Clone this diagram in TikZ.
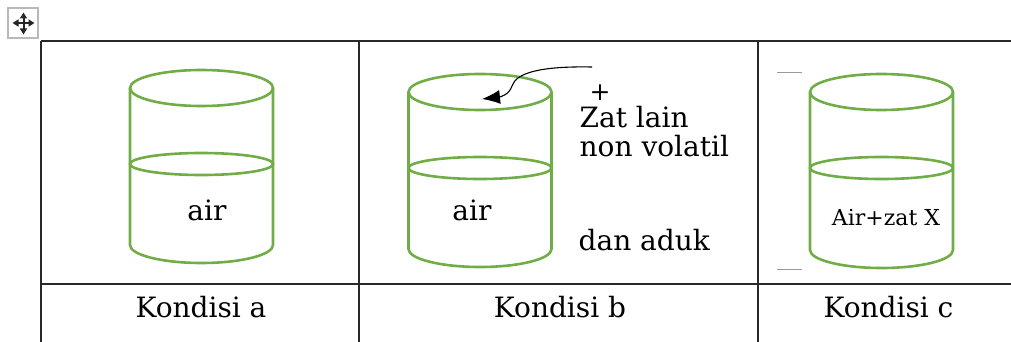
\documentclass[tikz,border=0pt]{standalone}
\usepackage{fontspec}
\setmainfont{DejaVu Serif}
\usetikzlibrary{arrows.meta, positioning}
\definecolor{tabunggreen}{RGB}{112,173,71}
\definecolor{gridline}{RGB}{40,40,40}

\begin{document}
\begin{tikzpicture}[x=1pt,y=-1pt,line width=1.4pt]

	\tikzset{tabung/.style={draw=tabunggreen, line width=2.6pt},
		grid ln/.style={draw=gridline, line width=1.5pt},
		lbl/.style={inner sep=0pt, anchor=base, font=\fontsize{28}{28}\selectfont},
		small lbl/.style={lbl, font=\fontsize{22}{22}\selectfont},
		handle/.style={draw=gray!30!black, line width=2pt, {Triangle[length=6pt,width=7pt]}-{Triangle[length=6pt,width=7pt]}},
		zat arrow/.style={draw=black, line width=1.1pt, -{Latex[length=18pt,width=14pt]}}}

	\useasboundingbox (0,0) rectangle (1011,342);

	% move handle of the table
	\draw[draw=gray!55, line width=1.3pt, fill=white] (8,8) rectangle (38,38);
	\draw[handle] (12.5,23) -- (34.5,23);
	\draw[handle] (23.5,12.5) -- (23.5,34.5);

	% table
	\draw[grid ln] (41,41) -- (1011,41) (41,284) -- (1011,284);
	\foreach \x in {41,359,758}
		\draw[grid ln] (\x,41) -- (\x,342);

	% cylinders: centre x / top / water level / bottom
	\foreach \cx/\ty/\my/\by in {201.5/88/164/245, 480/92/168/249, 881.5/92/168/250} {
		\draw[tabung] (\cx,\ty) ellipse [x radius=71.5pt, y radius=18pt];
		\draw[tabung] (\cx,\my) ellipse [x radius=71.5pt, y radius=11pt];
		\draw[tabung] (\cx-71.5,\ty) -- (\cx-71.5,\by)
			arc[start angle=180, end angle=360, x radius=71.5pt, y radius=18pt] -- (\cx+71.5,\ty);
	}

	% marks beside cylinder c
	\draw[gray!80, line width=1pt] (777,73) -- (802,73) (777,269) -- (802,269);

	% contents
	\node[lbl] (aira) at (207,220) {air};
	\node[lbl] (airb) at (472,220) {air};
	\node[small lbl] (airc) at (886,225) {Air+zat X};

	% what goes into b
	\node[lbl, anchor=center, font=\fontsize{25}{25}\selectfont] (plus) at (600,93) {+};
	\node[lbl, anchor=base west] (zat) at (579,128) {Zat lain};
	\node[lbl, anchor=base west] (nonvol) at (579,156) {non volatil};
	\node[lbl, anchor=base west] (aduk) at (578,250) {dan aduk};

	\coordinate (src) at (592,67);
	\coordinate (mouth) at (482,99);
	\draw[zat arrow] (src) .. controls (540,66) and (516,73) .. (512,86)
		.. controls (509,95) and (500,97) .. (mouth);

	% captions
	\node[lbl] (kona) at (201,317) {Kondisi a};
	\node[lbl] (konb) at (560,317) {Kondisi b};
	\node[lbl] (konc) at (888.5,317) {Kondisi c};

\end{tikzpicture}
\end{document}
